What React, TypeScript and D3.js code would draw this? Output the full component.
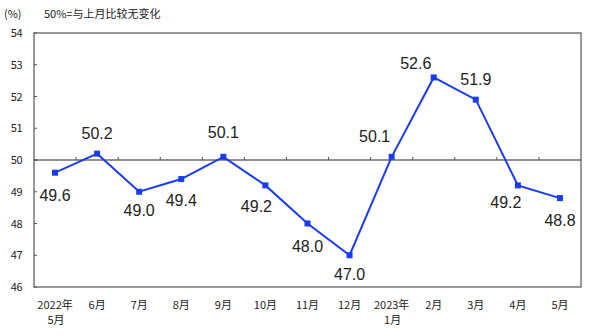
import React from "react";
import * as d3 from "d3";

const categories = ["2022年\n5月", "6月", "7月", "8月", "9月", "10月", "11月", "12月", "2023年\n1月", "2月", "3月", "4月", "5月"];
const values = [49.6, 50.2, 49.0, 49.4, 50.1, 49.2, 48.0, 47.0, 50.1, 52.6, 51.9, 49.2, 48.8];
const yTicks = [46, 47, 48, 49, 50, 51, 52, 53, 54];
// label offsets (dx, dy) relative to point, in px
const labelOffsets: [number, number][] = [
  [0, 28], [0, -15], [0, 24], [0, 27], [0, -19], [-9, 27], [0, 28], [0, 25], [-17, -15], [-18, -8], [0, -15], [-12, 23], [0, 28],
];

const W = 591, H = 336;
const M = { left: 34, right: 581, top: 33, bottom: 287 };

export default function App() {
  const x = d3.scaleBand<number>().domain(d3.range(values.length)).range([M.left, M.right]);
  const y = d3.scaleLinear().domain([46, 54]).range([M.bottom, M.top]);
  const line = d3.line<number>().x((_, i) => x(i)! + x.bandwidth() / 2).y((d) => y(d));
  const cjk = "'Noto Sans CJK SC', sans-serif";
  const lineColor = "#1a3cf0";
  return (
    <svg width={W} height={H} style={{ position: "absolute", left: 0, top: 0, background: "#fff" }}>
      <text x={4} y={18} fontSize={11} fontFamily={cjk} fill="#222">(%)</text>
      <text x={44} y={18} fontSize={11} fontFamily={cjk} fill="#222">50%=与上月比较无变化</text>
      <rect x={M.left} y={M.top} width={M.right - M.left} height={M.bottom - M.top} fill="none" stroke="#555" strokeWidth={1.2} />
      {yTicks.map((t) => (
        <g key={t}>
          <line x1={M.left} x2={M.left + 3} y1={y(t)} y2={y(t)} stroke="#555" />
          <text x={22} y={y(t) + 4} fontSize={11} fontFamily={cjk} textAnchor="end" fill="#222" letterSpacing={-0.5}>{t}</text>
        </g>
      ))}
      <line x1={M.left} x2={M.right} y1={y(50)} y2={y(50)} stroke="#222" strokeWidth={1} />
      {d3.range(1, values.length).map((i) => (
        <line key={i} x1={x(i)!} x2={x(i)!} y1={y(50)} y2={y(50) - 3} stroke="#555" />
      ))}
      {categories.map((c, i) => (
        <text key={i} x={x(i)! + x.bandwidth() / 2} y={309} fontSize={11} fontFamily={cjk} textAnchor="middle" fill="#222">
          {c.split("\n").map((s, j) => (
            <tspan key={j} x={x(i)! + x.bandwidth() / 2 + (j === 1 ? 1 : 0)} dy={j === 0 ? 0 : 15}>{s}</tspan>
          ))}
        </text>
      ))}
      <path d={line(values)!} fill="none" stroke={lineColor} strokeWidth={2} />
      {values.map((v, i) => (
        <rect key={i} x={x(i)! + x.bandwidth() / 2 - 3} y={y(v) - 3} width={6} height={6} fill={lineColor} />
      ))}
      {values.map((v, i) => (
        <text key={"l" + i} x={x(i)! + x.bandwidth() / 2 + labelOffsets[i][0]} y={y(v) + labelOffsets[i][1]} fontSize={16} fontFamily="'Liberation Sans', Arial, sans-serif" textAnchor="middle" fill="#222">
          {v.toFixed(1)}
        </text>
      ))}
    </svg>
  );
}
